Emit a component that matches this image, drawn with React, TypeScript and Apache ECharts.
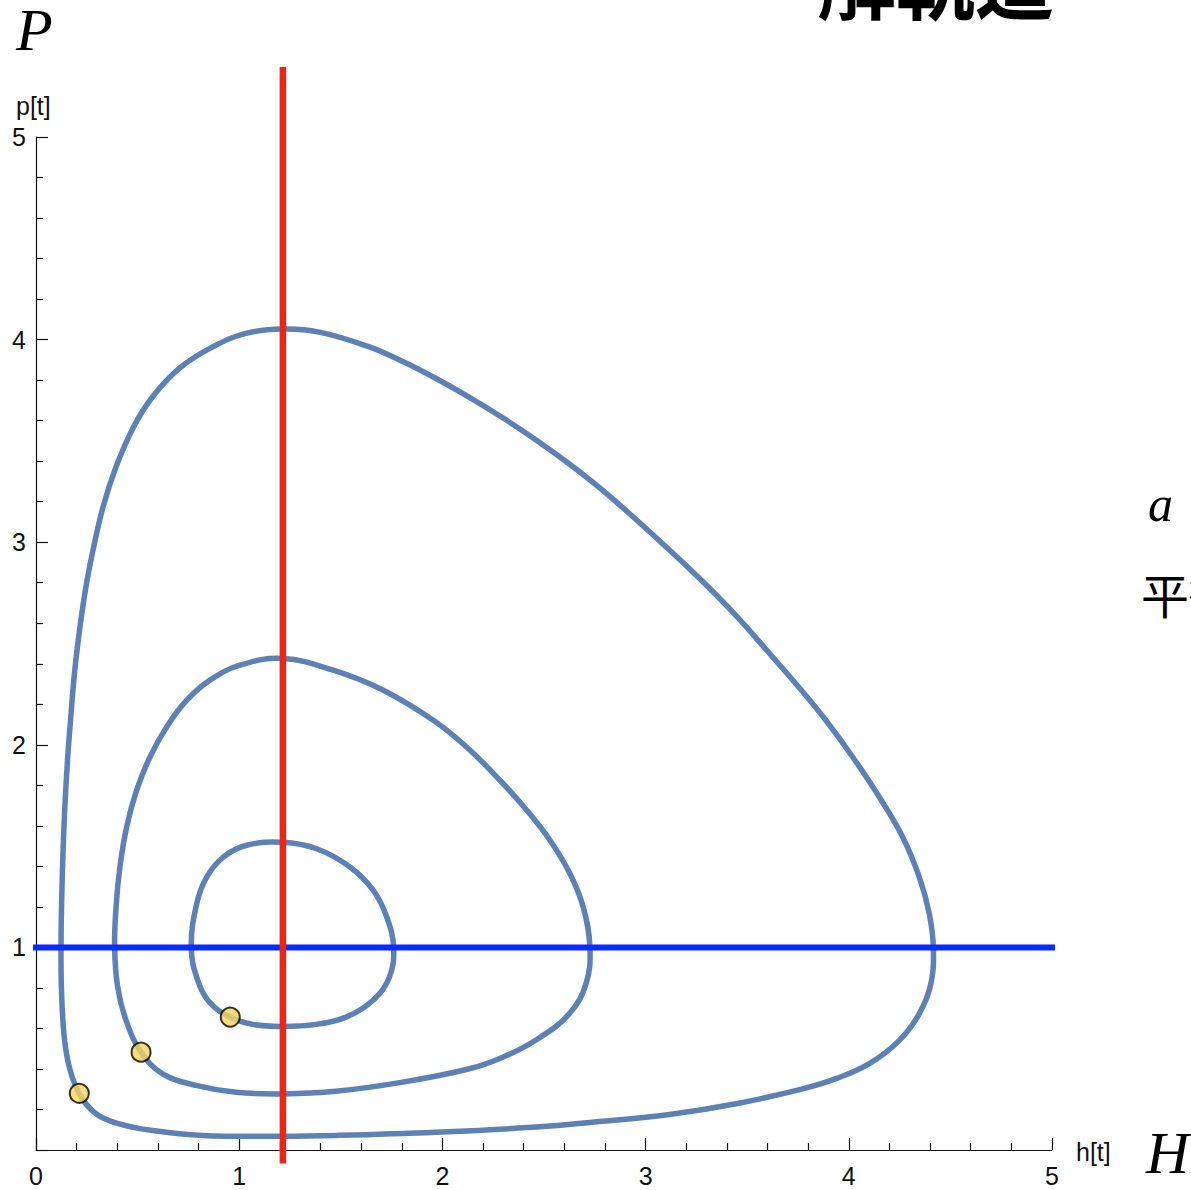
import React, { useEffect, useRef } from "react";
import * as echarts from "echarts";

// Predator–prey phase portrait: three closed orbits of (h, p), traced clockwise from the top
const outerOrbit: number[][] = [
  [1.214, 4.052], [1.394, 4.037], [1.64, 3.964], [1.805, 3.892], [1.969, 3.808], [2.133, 3.715],
  [2.297, 3.614], [2.461, 3.505], [2.625, 3.386], [2.789, 3.256], [2.953, 3.112], [3.117, 2.962],
  [3.281, 2.806], [3.445, 2.638], [3.609, 2.452], [3.773, 2.262], [3.888, 2.12], [4.019, 1.94],
  [4.15, 1.742], [4.265, 1.545], [4.347, 1.347], [4.396, 1.166], [4.416, 0.997], [4.404, 0.821],
  [4.347, 0.673], [4.249, 0.541], [4.101, 0.426], [3.937, 0.352], [3.773, 0.302], [3.445, 0.228],
  [3.117, 0.175], [2.789, 0.142], [2.461, 0.113], [1.969, 0.088], [1.476, 0.072], [1.214, 0.068],
  [0.82, 0.072], [0.574, 0.096], [0.41, 0.129], [0.295, 0.179], [0.213, 0.278], [0.164, 0.409],
  [0.139, 0.557], [0.126, 0.771], [0.123, 0.997], [0.128, 1.298], [0.139, 1.627], [0.155, 1.923],
  [0.17, 2.121], [0.189, 2.35], [0.212, 2.549], [0.243, 2.763], [0.277, 2.944], [0.33, 3.174],
  [0.394, 3.372], [0.48, 3.569], [0.574, 3.718], [0.705, 3.858], [0.869, 3.964], [1.033, 4.031],
];

const middleOrbit: number[][] = [
  [1.214, 2.426], [1.463, 2.368], [1.709, 2.269], [1.955, 2.121], [2.119, 1.989], [2.283, 1.825],
  [2.415, 1.677], [2.53, 1.528], [2.628, 1.364], [2.693, 1.199], [2.726, 0.999], [2.707, 0.821],
  [2.625, 0.673], [2.461, 0.543], [2.297, 0.458], [2.133, 0.401], [1.805, 0.335], [1.476, 0.29],
  [1.214, 0.277], [0.984, 0.285], [0.787, 0.319], [0.623, 0.376], [0.517, 0.483], [0.443, 0.64],
  [0.402, 0.804], [0.387, 0.999], [0.394, 1.199], [0.413, 1.397], [0.446, 1.594], [0.495, 1.775],
  [0.561, 1.94], [0.643, 2.088], [0.742, 2.22], [0.856, 2.319], [1.004, 2.393],
];

const innerOrbit: number[][] = [
  [1.214, 1.519], [1.381, 1.487], [1.545, 1.397], [1.66, 1.281], [1.726, 1.15], [1.76, 1.0],
  [1.739, 0.853], [1.657, 0.738], [1.526, 0.656], [1.378, 0.62], [1.214, 0.61], [1.066, 0.62],
  [0.956, 0.656], [0.853, 0.73], [0.796, 0.837], [0.764, 1.0], [0.791, 1.216], [0.84, 1.347],
  [0.922, 1.446], [1.037, 1.504],
];

// Initial conditions of the three trajectories
const startPoints: number[][] = [
  [0.213, 0.28],
  [0.517, 0.483],
  [0.956, 0.656],
];

// Nullclines through the equilibrium (h*, p*)
const hStar = 1.215;
const pStar = 1;
const verticalSpan = [-0.067, 5.346];
const horizontalSpan = [-0.128, 5.03];

const xTicks = [0, 1, 2, 3, 4, 5];
const yTicks = [0, 1, 2, 3, 4, 5];

const SANS = "Liberation Sans, Arial, sans-serif";
const SERIF = "Liberation Serif, Times New Roman, serif";
const CJK = "Noto Sans CJK JP, sans-serif";

// A closed orbit drawn as one smooth closed curve through its points
const orbitSeries = (pts: number[][]) => ({
  type: "custom",
  coordinateSystem: "cartesian2d",
  data: pts,
  encode: { x: 0, y: 1 },
  clip: false,
  z: 2,
  renderItem: (params: any, api: any) => {
    if (params.dataIndex !== 0) return null;
    const points = pts.map((p) => api.coord(p));
    return {
      type: "polygon",
      shape: { points, smooth: 0.4 },
      style: { fill: "none", stroke: "#5e81b5", lineWidth: 5.5 },
    };
  },
});

export default function App() {
  const ref = useRef<HTMLDivElement>(null);

  useEffect(() => {
    if (!ref.current) return;
    const chart = echarts.init(ref.current, null, { renderer: "svg" });

    const axisCommon = {
      type: "value",
      interval: 1,
      axisLine: { show: true, onZero: true, lineStyle: { color: "#111", width: 1.2 } },
      axisTick: { show: true, inside: true, length: 12, lineStyle: { color: "#111", width: 1.2 } },
      minorTick: { show: true, splitNumber: 5, length: 7, lineStyle: { color: "#111", width: 1.2 } },
      splitLine: { show: false },
    };

    chart.setOption({
      animation: false,
      backgroundColor: "#ffffff",
      grid: { left: 36, right: 139, top: 137, bottom: 40 },
      xAxis: {
        ...axisCommon,
        min: xTicks[0],
        max: xTicks[xTicks.length - 1],
        axisLabel: { fontSize: 25, color: "#111", fontFamily: SANS, margin: 13 },
      },
      yAxis: {
        ...axisCommon,
        min: yTicks[0],
        max: yTicks[yTicks.length - 1],
        axisLabel: {
          fontSize: 25,
          color: "#111",
          fontFamily: SANS,
          margin: 10,
          formatter: (v: number) => (v === 0 ? "" : String(v)),
        },
      },
      series: [
        orbitSeries(outerOrbit),
        orbitSeries(middleOrbit),
        orbitSeries(innerOrbit),
        {
          type: "line",
          data: [
            [horizontalSpan[0], pStar],
            [horizontalSpan[1], pStar],
          ],
          clip: false,
          symbol: "none",
          lineStyle: { color: "#0a2aff", width: 6 },
          z: 3,
        },
        {
          type: "line",
          data: [
            [hStar, verticalSpan[0]],
            [hStar, verticalSpan[1]],
          ],
          clip: false,
          symbol: "none",
          lineStyle: { color: "#ec2616", width: 6.5 },
          z: 4,
        },
        {
          type: "scatter",
          data: startPoints,
          symbol: "circle",
          symbolSize: 19,
          itemStyle: { color: "#f6d45c", borderColor: "#000", borderWidth: 2 },
          z: 5,
        },
      ],
      graphic: [
        {
          type: "text",
          left: 817,
          top: -60,
          style: {
            text: "解軌道",
            fontSize: 79,
            fontWeight: "bold",
            fontFamily: CJK,
            fill: "#000",
          },
        },
        {
          type: "text",
          x: 16,
          y: 30,
          style: {
            text: "P",
            fontSize: 60,
            fontStyle: "italic",
            fontFamily: SERIF,
            fill: "#000",
            verticalAlign: "middle",
          },
        },
        {
          type: "text",
          x: 16,
          y: 106,
          style: { text: "p[t]", fontSize: 25, fontFamily: SANS, fill: "#111", verticalAlign: "middle" },
        },
        {
          type: "text",
          x: 1076,
          y: 1152,
          style: { text: "h[t]", fontSize: 25, fontFamily: SANS, fill: "#111", verticalAlign: "middle" },
        },
        {
          type: "text",
          x: 1146,
          y: 1153,
          style: {
            text: "H",
            fontSize: 60,
            fontStyle: "italic",
            fontFamily: SERIF,
            fill: "#000",
            verticalAlign: "middle",
          },
        },
        {
          type: "text",
          x: 1148,
          y: 504,
          style: {
            text: "a =",
            fontSize: 50,
            fontStyle: "italic",
            fontFamily: SERIF,
            fill: "#000",
            verticalAlign: "middle",
          },
        },
        {
          type: "text",
          x: 1141,
          y: 593,
          style: { text: "平衡点", fontSize: 48, fontFamily: CJK, fill: "#000", verticalAlign: "middle" },
        },
      ],
    });

    return () => chart.dispose();
  }, []);

  return (
    <div
      ref={ref}
      style={{ position: "fixed", left: 0, top: 0, width: 1191, height: 1190, overflow: "hidden", background: "#fff" }}
    />
  );
}
